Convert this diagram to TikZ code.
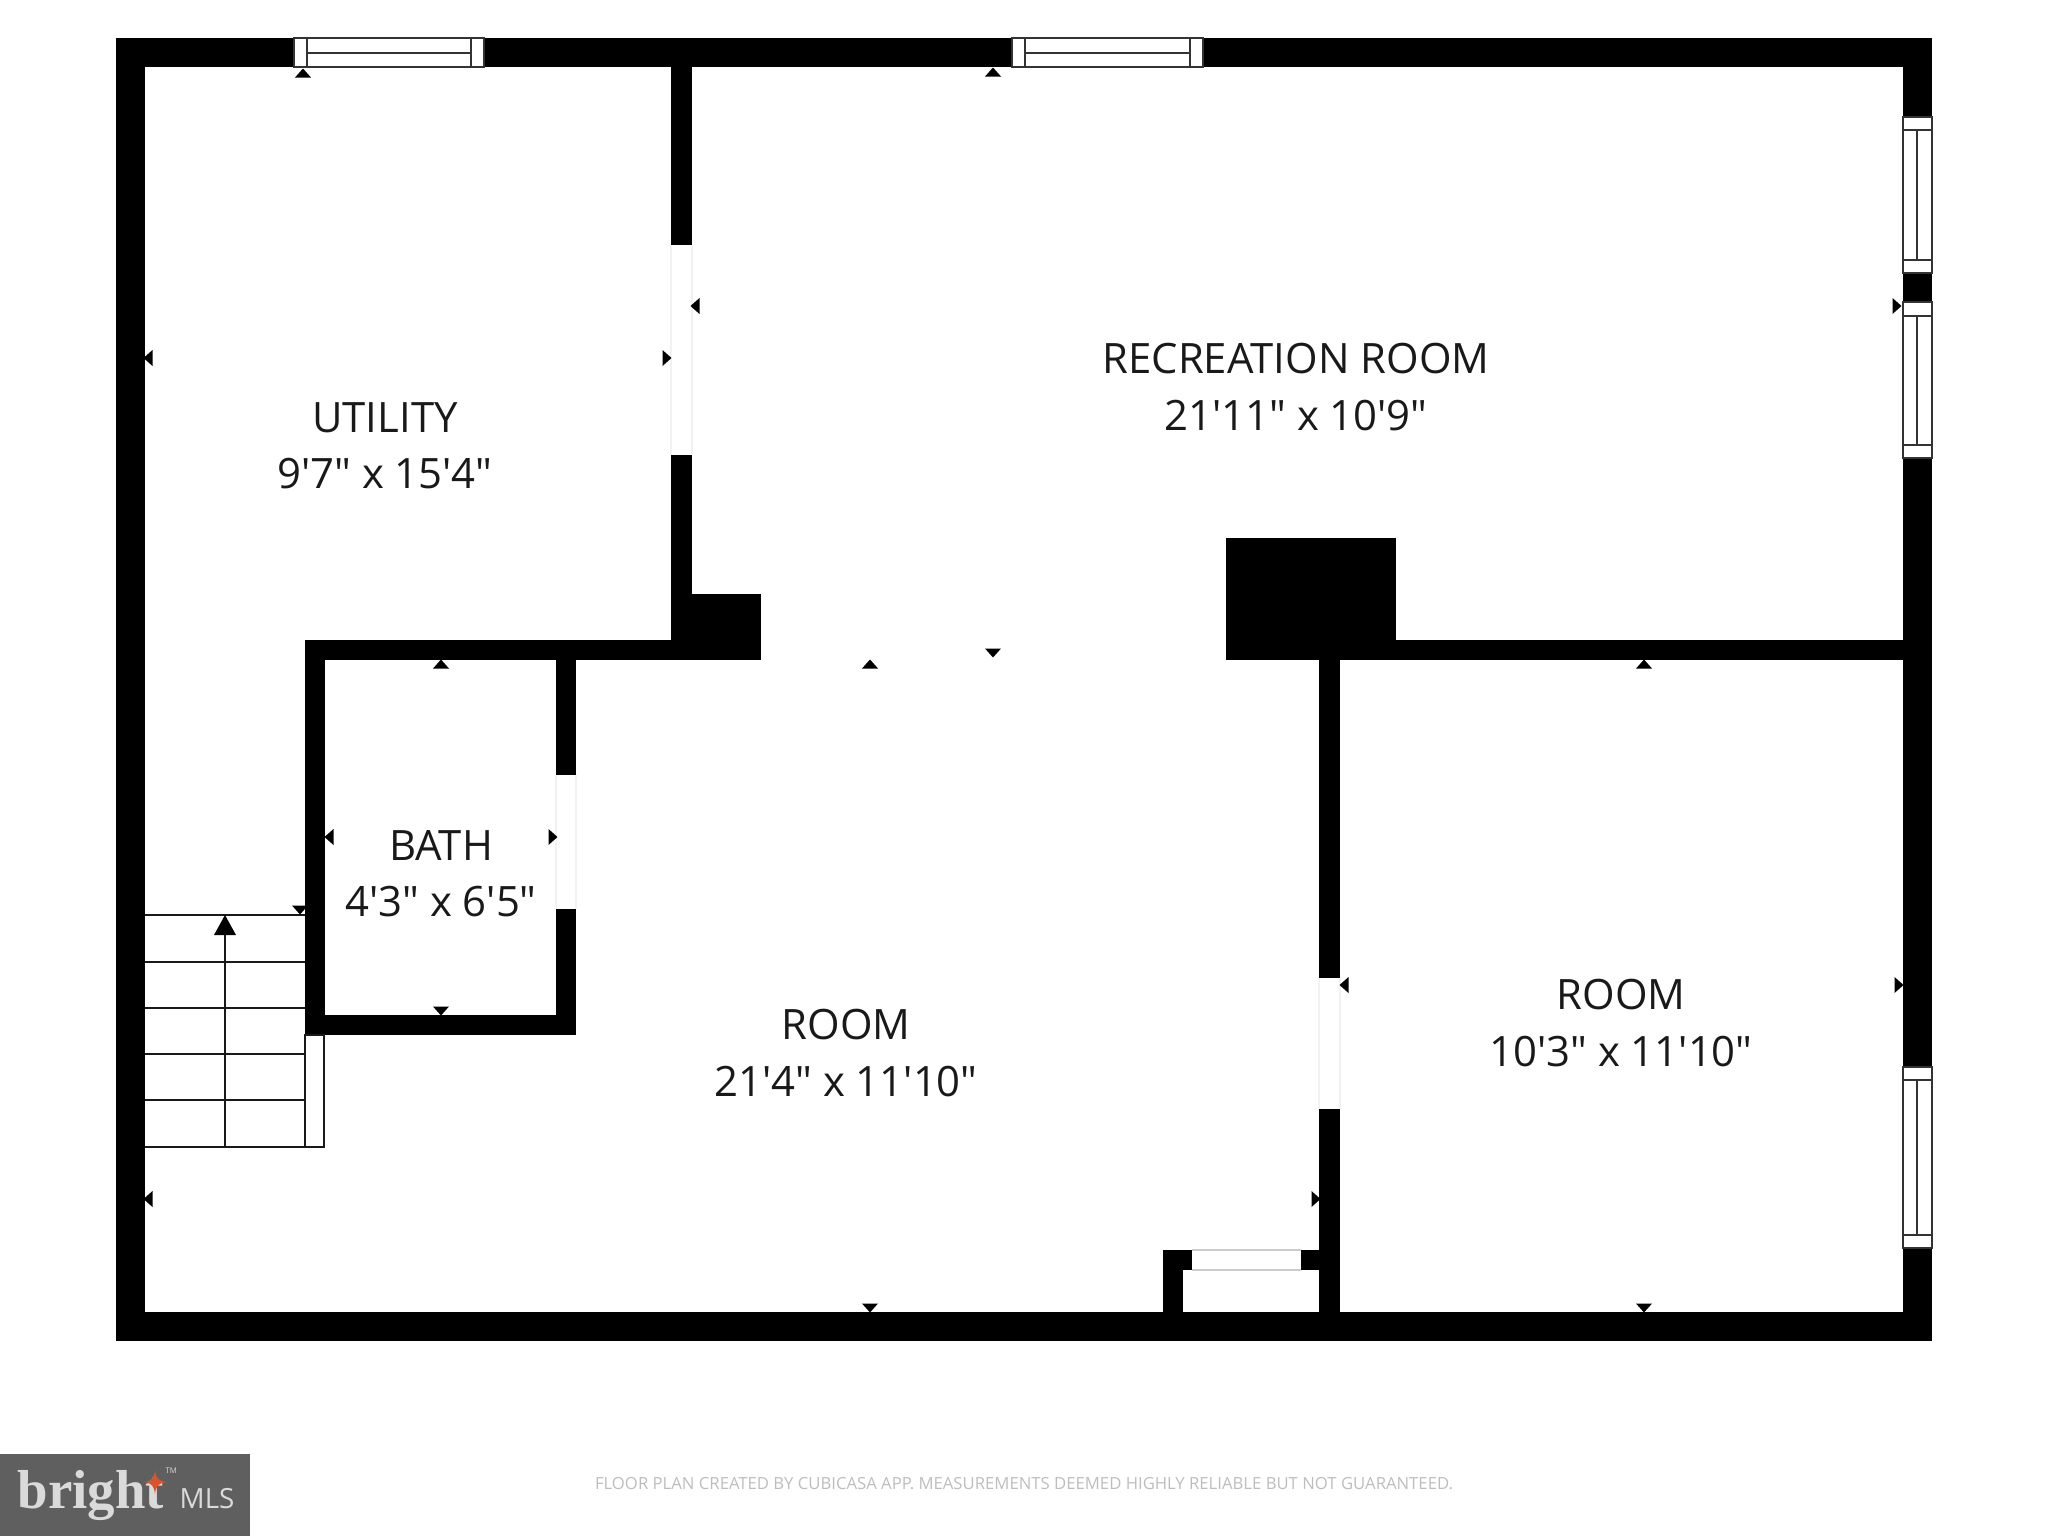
\documentclass[tikz,border=0pt]{standalone}
\usepackage{fontspec}
\setmainfont{Open Sans}
\newfontfamily\roomfont{Open Sans}
\newfontfamily\logoserif{Liberation Serif}
\definecolor{logobg}{HTML}{5F5F5F}
\definecolor{logotext}{HTML}{DADADA}
\definecolor{logostar}{HTML}{D9532C}
\definecolor{openline}{HTML}{F2F2F2}
\definecolor{footgray}{HTML}{BDBDBD}
\tikzset{
  wall/.style={fill=black,draw=none},
  winline/.style={draw=black!80,line width=0.4pt},
  stairline/.style={draw=black!90,line width=0.45pt},
  opening/.style={draw=openline,line width=0.3pt},
  tick/.style={fill=black,draw=none},
  roomlabel/.style={align=center,font=\roomfont\fontsize{11.9}{15.95}\selectfont,text=black!90,inner sep=0pt},
}
\newcommand{\tup}[2]{\fill[tick] (#1-8,#2+4.5) -- (#1+8,#2+4.5) -- (#1,#2-4.5) -- cycle;}
\newcommand{\tdn}[2]{\fill[tick] (#1-8,#2-4.5) -- (#1+8,#2-4.5) -- (#1,#2+4.5) -- cycle;}
\newcommand{\tlf}[2]{\fill[tick] (#1+4.5,#2-8) -- (#1+4.5,#2+8) -- (#1-4.5,#2) -- cycle;}
\newcommand{\trt}[2]{\fill[tick] (#1-4.5,#2-8) -- (#1-4.5,#2+8) -- (#1+4.5,#2) -- cycle;}
\begin{document}
\begin{tikzpicture}[x=0.01cm,y=-0.01cm]
\useasboundingbox (0,0) rectangle (2048,1536);
% outer walls
\fill[wall] (116,38) rectangle (294,67);
\fill[wall] (484,38) rectangle (1012,67);
\fill[wall] (1203,38) rectangle (1932,67);
\fill[wall] (116,38) rectangle (145,1341);
\fill[wall] (116,1312) rectangle (1932,1341);
\fill[wall] (1903,38) rectangle (1932,117);
\fill[wall] (1903,273) rectangle (1932,302);
\fill[wall] (1903,458) rectangle (1932,1067);
\fill[wall] (1903,1248) rectangle (1932,1341);
% utility / recreation wall
\fill[wall] (671,67) rectangle (692,245);
\fill[wall] (671,455) rectangle (692,660);
\fill[wall] (671,594) rectangle (761,660);
\fill[wall] (305,640) rectangle (692,660);
% bath
\fill[wall] (305,640) rectangle (325,1035);
\fill[wall] (305,1015) rectangle (576,1035);
\fill[wall] (556,640) rectangle (576,775);
\fill[wall] (556,909) rectangle (576,1035);
% chimney block and east walls
\fill[wall] (1226,538) rectangle (1396,660);
\fill[wall] (1396,640) rectangle (1903,660);
\fill[wall] (1319,660) rectangle (1340,978);
\fill[wall] (1319,1109) rectangle (1340,1312);
% alcove
\fill[wall] (1163,1250) rectangle (1183,1312);
\fill[wall] (1163,1250) rectangle (1192,1270);
\fill[wall] (1301,1250) rectangle (1320,1270);
% door openings
\draw[opening] (671,245) -- (671,455) (692,245) -- (692,455);
\draw[opening] (556,775) -- (556,909) (576,775) -- (576,909);
\draw[opening] (1319,978) -- (1319,1109) (1340,978) -- (1340,1109);
\draw[draw=black!20,line width=0.3pt] (1192,1250) -- (1301,1250) (1192,1270) -- (1301,1270);
% top windows
\draw[winline] (294,38) rectangle (484,67) (307,38) -- (307,67) (471,38) -- (471,67) (307,53) -- (471,53);
\draw[winline] (1012,38) rectangle (1203,67) (1025,38) -- (1025,67) (1190,38) -- (1190,67) (1025,53) -- (1190,53);
% east windows
\draw[winline] (1903,117) rectangle (1932,273) (1903,130) -- (1932,130) (1903,260) -- (1932,260) (1917,130) -- (1917,260);
\draw[winline] (1903,302) rectangle (1932,458) (1903,316) -- (1932,316) (1903,445) -- (1932,445) (1917,316) -- (1917,445);
\draw[winline] (1903,1067) rectangle (1932,1248) (1903,1080) -- (1932,1080) (1903,1235) -- (1932,1235) (1917,1080) -- (1917,1235);
% stairs
\draw[stairline] (145,915) -- (305,915) (145,962) -- (305,962) (145,1008) -- (305,1008) (145,1054) -- (305,1054) (145,1100) -- (305,1100) (145,1147) -- (305,1147);
\draw[stairline] (225,935) -- (225,1147);
\draw[stairline] (305,1035) rectangle (324,1147);
\fill[tick] (225,915) -- (236,935) -- (214,935) -- cycle;
% dimension ticks
\tup{303}{73}\tup{993}{72}\tup{441}{664}\tup{870}{664}\tup{1644}{664}
\tdn{993}{653}\tdn{300}{910}\tdn{441}{1011}\tdn{870}{1308}\tdn{1644}{1308}
\tlf{148}{358}\tlf{695}{306}\tlf{329}{837}\tlf{1344}{985}\tlf{148}{1199}
\trt{667}{358}\trt{1897}{306}\trt{553}{837}\trt{1899}{985}\trt{1316}{1199}
% labels
\node[roomlabel] (utility) at (385,446) {UTILITY\\9'7" x 15'4"};
\node[roomlabel] (rec) at (1296,387) {RECREATION ROOM\\21'11" x 10'9"};
\node[roomlabel] (bath) at (441,874) {BATH\\4'3" x 6'5"};
\node[roomlabel] (room1) at (846,1053) {ROOM\\21'4" x 11'10"};
\node[roomlabel] (room2) at (1621,1023) {ROOM\\10'3" x 11'10"};
% footer
\node[inner sep=0pt,text=footgray,font=\fontsize{4.75}{6}\selectfont] (foot) at (1024,1484) {FLOOR PLAN CREATED BY CUBICASA APP. MEASUREMENTS DEEMED HIGHLY RELIABLE BUT NOT GUARANTEED.};
% logo
\fill[logobg] (0,1454) rectangle (250,1536);
\node[anchor=base west,inner sep=0pt,text=logotext,font=\logoserif\bfseries\fontsize{15.6}{16}\selectfont] (brightw) at (17,1508) {bright};
\node[anchor=base west,inner sep=0pt,text=logotext,font=\fontsize{7.9}{9}\selectfont] (mls) at (179,1508) {MLS};
\fill[logostar] (155,1470) .. controls (156,1478) and (158,1481) .. (167,1482) .. controls (158,1483) and (156,1486) .. (155,1494) .. controls (154,1486) and (152,1483) .. (144,1482) .. controls (152,1481) and (154,1478) .. (155,1470) -- cycle;
\node[anchor=base west,inner sep=0pt,text=logotext,font=\fontsize{2.2}{3}\selectfont] (tm) at (165,1473) {TM};
\end{tikzpicture}
\end{document}
